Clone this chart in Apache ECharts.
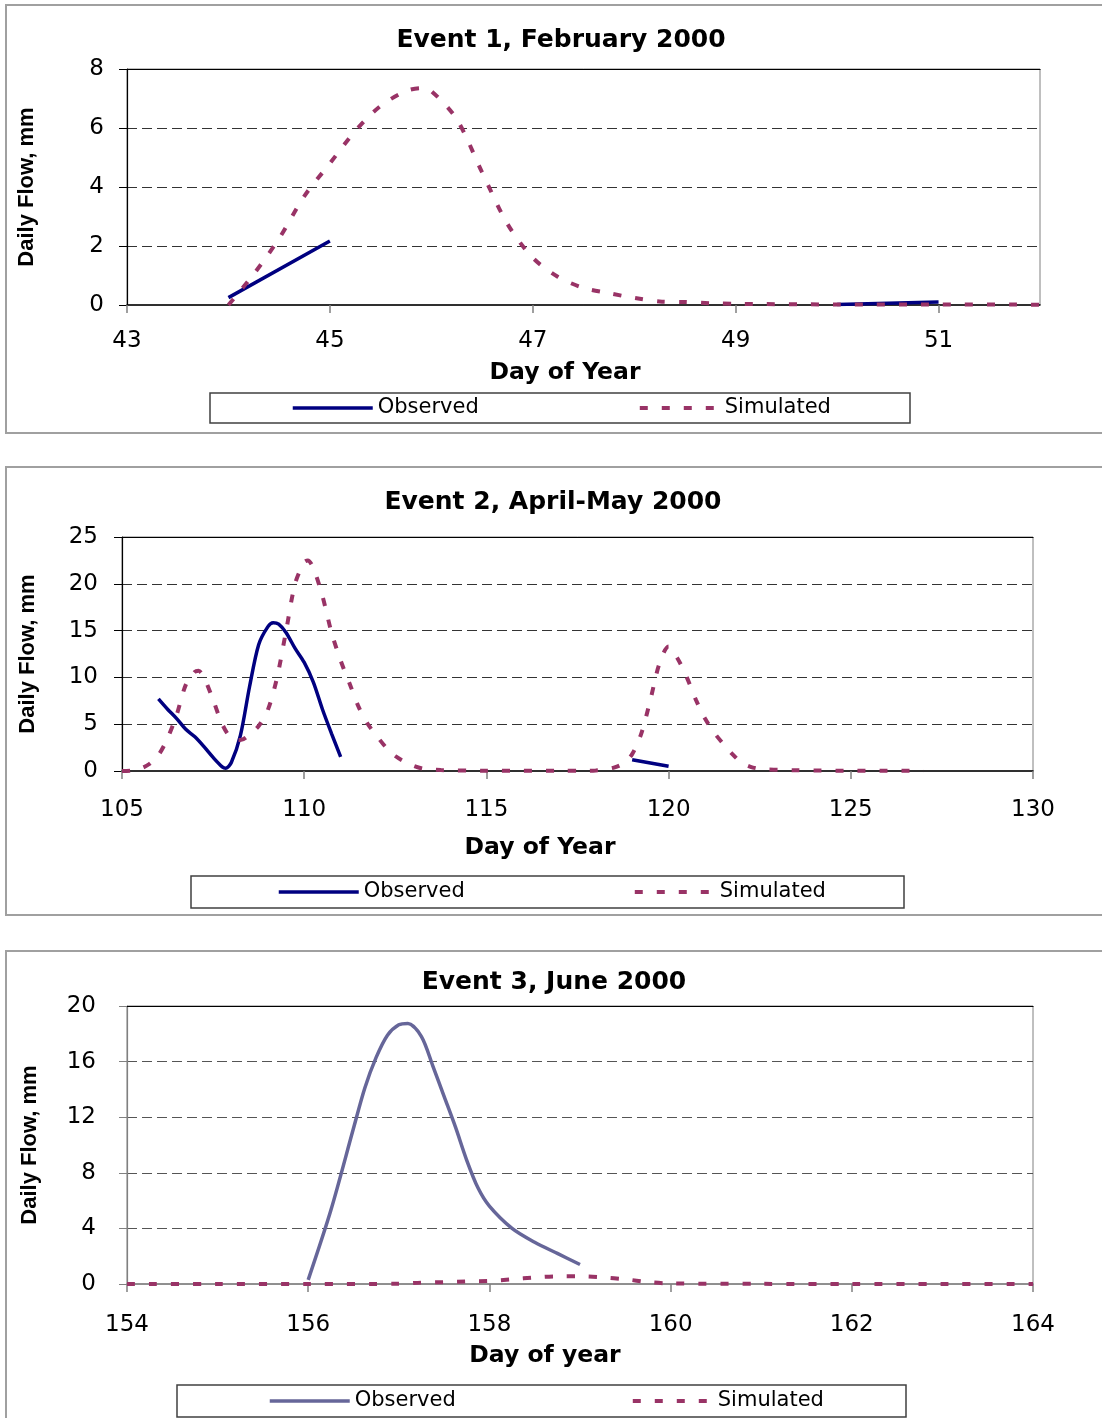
<!DOCTYPE html>
<html>
<head>
<meta charset="utf-8">
<script src="https://cdn.jsdelivr.net/npm/echarts@6/dist/echarts.min.js"></script>
<style>
  html, body { margin: 0; padding: 0; background: #ffffff; }
  #chart { width: 1102px; height: 1418px; }
</style>
</head>
<body>
<div id="chart"></div>
<script>
// ---- Event 1: February 2000 --------------------------------------------
const event1Title = 'Event 1, February 2000';
const event1DayRange = [43, 52];
const event1DayTicks = [43, 45, 47, 49, 51];
const event1FlowTicks = [0, 2, 4, 6, 8];
const event1Observed = [
  [44, 0.25], [45, 2.17], [46, '-'], [50, 0.02], [51, 0.1]
];
const event1Simulated = [
  [44, 0], [44.25, 1.05], [44.5, 2.26], [44.75, 3.7], [45, 4.8], [45.25, 5.9],
  [45.5, 6.75], [45.75, 7.25], [45.9, 7.35], [46, 7.25], [46.25, 6.3], [46.5, 4.5],
  [46.75, 2.75], [47, 1.6], [47.25, 0.95], [47.5, 0.58], [47.75, 0.4], [48, 0.24],
  [48.25, 0.12], [48.5, 0.1], [48.75, 0.06], [49, 0.04], [50, 0.02], [51, 0.02], [52, 0.01]
];

// ---- Event 2: April-May 2000 -------------------------------------------
const event2Title = 'Event 2, April-May 2000';
const event2DayRange = [105, 130];
const event2DayTicks = [105, 110, 115, 120, 125, 130];
const event2FlowTicks = [0, 5, 10, 15, 20, 25];
const event2Observed = [
  [106, 7.7], [106.25, 6.6], [106.5, 5.6], [106.75, 4.45], [107, 3.65], [107.25, 2.6],
  [107.5, 1.45], [107.75, 0.45], [107.85, 0.3], [108, 0.9], [108.25, 3.8], [108.5, 9.0],
  [108.75, 13.5], [109, 15.4], [109.15, 15.85], [109.3, 15.7], [109.5, 14.8], [109.75, 13.1],
  [110, 11.6], [110.25, 9.5], [110.5, 6.6], [110.75, 4.0], [111, 1.5],
  [112, '-'], [119, 1.2], [120, 0.5]
];
const event2Simulated = [
  [105, 0], [105.25, 0.05], [105.5, 0.25], [105.75, 0.75], [106, 1.7], [106.25, 3.5],
  [106.5, 6.0], [106.75, 9.2], [107, 10.6], [107.1, 10.7], [107.25, 10.0], [107.5, 7.6],
  [107.75, 5.0], [108, 3.5], [108.25, 3.3], [108.5, 3.9], [108.75, 4.8], [109, 6.5],
  [109.25, 9.9], [109.5, 14.9], [109.75, 20.0], [110, 22.3], [110.1, 22.5], [110.25, 21.7],
  [110.5, 18.7], [110.75, 14.8], [111, 11.8], [111.25, 9.3], [111.5, 6.8], [111.75, 5.0],
  [112, 3.7], [112.25, 2.5], [112.5, 1.6], [112.75, 1.0], [113, 0.55], [113.25, 0.25],
  [113.5, 0.15], [113.75, 0.1], [114, 0.08], [114.5, 0.05], [115, 0.03], [116, 0.02],
  [117, 0.02], [117.75, 0.03], [118, 0.06], [118.25, 0.15], [118.5, 0.35], [118.75, 0.8],
  [119, 1.8], [119.25, 4.0], [119.5, 7.6], [119.75, 11.5], [120, 13.3], [120.25, 12.0],
  [120.5, 10.0], [120.75, 7.6], [121, 5.6], [121.25, 4.1], [121.5, 2.9], [121.75, 1.8],
  [122, 0.9], [122.25, 0.45], [122.5, 0.22], [122.75, 0.15], [123, 0.14], [123.5, 0.08],
  [124, 0.05], [125, 0.03], [126, 0.02], [127, 0.01]
];

// ---- Event 3: June 2000 ------------------------------------------------
const event3Title = 'Event 3, June 2000';
const event3DayRange = [154, 164];
const event3DayTicks = [154, 156, 158, 160, 162, 164];
const event3FlowTicks = [0, 4, 8, 12, 16, 20];
const event3Observed = [
  [156, 0.3], [156.25, 5.3], [156.5, 11.2], [156.625, 14.1], [156.75, 16.3], [156.875, 17.9],
  [157, 18.65], [157.1, 18.75], [157.25, 17.8], [157.375, 15.7], [157.5, 13.5], [157.625, 11.3],
  [157.75, 8.9], [157.875, 6.9], [158, 5.6], [158.25, 4.0], [158.5, 3.0], [158.75, 2.2], [159, 1.4]
];
const event3Simulated = [
  [154, 0], [155, 0], [156, 0], [157, 0.02], [157.25, 0.1], [157.5, 0.13], [157.75, 0.18],
  [158, 0.22], [158.25, 0.34], [158.5, 0.47], [158.75, 0.55], [159, 0.55], [159.25, 0.48],
  [159.5, 0.34], [159.75, 0.14], [160, 0.04], [161, 0.01], [162, 0], [163, 0], [164, 0]
];

const xAxisName = ['Day of Year', 'Day of Year', 'Day of year'];
const yAxisName = 'Daily Flow, mm';

// ---- styling / layout ---------------------------------------------------
const SIM_COLOR = '#993366';
const OBS_COLORS = ['#000080', '#000080', '#666699'];
const OBS_WIDTH = 3.5;
const SIM_WIDTH = 4;
const SIM_DASH = [8, 14];
const NUM_FONT = 'DejaVu Sans';

const panels = [
  { title: event1Title, range: event1DayRange, dayTicks: event1DayTicks, flowTicks: event1FlowTicks,
    obs: event1Observed, sim: event1Simulated,
    grid: { left: 127, top: 69, width: 913, height: 236 }, titleX: 561, titleY: 28,
    xLabelMargin: 25, xNameGap: 56, xNameShift: 37, yLabelMargin: 23, yNameGap: 89,
    axisColor: '#000', gridColor: '#333', legendX: 291, legendY: 397, legendGap: 159,
    frame: [6, 5, 1200, 428], legendBox: [210, 393, 700, 30] },
  { title: event2Title, range: event2DayRange, dayTicks: event2DayTicks, flowTicks: event2FlowTicks,
    obs: event2Observed, sim: event2Simulated,
    grid: { left: 122, top: 537, width: 911, height: 234 }, titleX: 553, titleY: 490,
    xLabelMargin: 28, xNameGap: 65, xNameShift: 75, yLabelMargin: 24, yNameGap: 83,
    axisColor: '#000', gridColor: '#333', legendX: 277, legendY: 881, legendGap: 168,
    frame: [6, 467, 1200, 448], legendBox: [191, 876, 713, 32] },
  { title: event3Title, range: event3DayRange, dayTicks: event3DayTicks, flowTicks: event3FlowTicks,
    obs: event3Observed, sim: event3Simulated,
    grid: { left: 127, top: 1006, width: 906, height: 278 }, titleX: 554, titleY: 970,
    xLabelMargin: 30, xNameGap: 60, xNameShift: 70, yLabelMargin: 31, yNameGap: 86,
    axisColor: '#808080', gridColor: '#555', legendX: 268, legendY: 1390, legendGap: 175,
    frame: [6, 951, 1200, 600], legendBox: [177, 1385, 729, 32] }
];

const option = {
  animation: false,
  backgroundColor: '#ffffff',
  title: panels.map(p => ({
    text: p.title, left: p.titleX, top: p.titleY, textAlign: 'center', padding: 0,
    textStyle: { fontFamily: NUM_FONT, fontWeight: 'bold', fontSize: 25, color: '#000' }
  })),
  grid: panels.map(p => Object.assign({ show: true, borderColor: '#808080', borderWidth: 1,
    backgroundColor: 'transparent', containLabel: false }, p.grid)),
  xAxis: [
    ...panels.map((p, i) => ({
      type: 'value', gridIndex: i, position: 'bottom',
      min: p.range[0], max: p.range[1],
      interval: p.dayTicks[1] - p.dayTicks[0],
      name: xAxisName[i], nameLocation: 'middle', nameGap: p.xNameGap,
      nameTextStyle: { fontFamily: NUM_FONT, fontWeight: 'bold', fontSize: 23.5, color: '#000',
        padding: [0, p.xNameShift, 0, 0] },
      axisLine: { show: true, onZero: false, lineStyle: { color: p.axisColor, width: 1.5 } },
      axisTick: { show: true, length: 8, customValues: p.dayTicks,
        lineStyle: { color: '#808080', width: 1.5 } },
      axisLabel: { show: true, customValues: p.dayTicks, margin: p.xLabelMargin,
        fontFamily: NUM_FONT, fontSize: 23, color: '#000' },
      splitLine: { show: false }
    })),
    ...panels.map((p, i) => ({
      type: 'value', gridIndex: i, position: 'top', min: p.range[0], max: p.range[1],
      axisLine: { show: true, onZero: false, lineStyle: { color: '#000', width: 1.2 } },
      axisTick: { show: false }, axisLabel: { show: false }, splitLine: { show: false }
    }))
  ],
  yAxis: panels.map((p, i) => ({
    type: 'value', gridIndex: i,
    min: p.flowTicks[0], max: p.flowTicks[p.flowTicks.length - 1],
    interval: p.flowTicks[1] - p.flowTicks[0],
    name: yAxisName, nameLocation: 'middle', nameGap: p.yNameGap,
    nameTextStyle: { fontFamily: 'Liberation Sans', fontWeight: 'bold', fontSize: 22, color: '#000' },
    axisLine: { show: true, onZero: false, lineStyle: { color: p.axisColor, width: 1.2 } },
    axisTick: { show: true, length: 8, lineStyle: { color: p.axisColor, width: 1 } },
    axisLabel: { margin: p.yLabelMargin, fontFamily: NUM_FONT, fontSize: 23, color: '#000' },
    splitLine: { show: true, showMinLine: false, showMaxLine: false,
      lineStyle: { color: p.gridColor, width: 1, type: [10, 5] } }
  })),
  legend: panels.map((p, i) => ({
    left: p.legendX, top: p.legendY, padding: 0, orient: 'horizontal',
    itemWidth: 80, itemHeight: 14, itemGap: p.legendGap, selectedMode: false,
    itemStyle: { opacity: 0 },
    data: [
      { name: 'Observed#' + (i + 1),
        lineStyle: { color: OBS_COLORS[i], width: OBS_WIDTH, type: 'solid' } },
      { name: 'Simulated#' + (i + 1),
        lineStyle: { color: SIM_COLOR, width: SIM_WIDTH, type: SIM_DASH } }
    ],
    formatter: name => name.split('#')[0],
    textStyle: { fontFamily: NUM_FONT, fontSize: 21, color: '#000', lineHeight: 22 }
  })),
  graphic: [
    ...panels.map(p => ({
      type: 'rect', silent: true, z: -10,
      shape: { x: p.frame[0], y: p.frame[1], width: p.frame[2], height: p.frame[3] },
      style: { fill: 'none', stroke: '#a0a0a0', lineWidth: 2 }
    })),
    ...panels.map(p => ({
      type: 'rect', silent: true, z: -10,
      shape: { x: p.legendBox[0], y: p.legendBox[1], width: p.legendBox[2], height: p.legendBox[3] },
      style: { fill: 'none', stroke: '#404040', lineWidth: 1.5 }
    }))
  ],
  series: panels.flatMap((p, i) => [
    {
      type: 'line', name: 'Observed#' + (i + 1), xAxisIndex: i, yAxisIndex: i,
      data: p.obs, symbol: 'none', smooth: 0.3, connectNulls: false,
      lineStyle: { color: OBS_COLORS[i], width: OBS_WIDTH }, itemStyle: { color: OBS_COLORS[i] }
    },
    {
      type: 'line', name: 'Simulated#' + (i + 1), xAxisIndex: i, yAxisIndex: i,
      data: p.sim, symbol: 'none', smooth: 0.3, connectNulls: false,
      lineStyle: { color: SIM_COLOR, width: SIM_WIDTH, type: SIM_DASH }, itemStyle: { color: SIM_COLOR }
    }
  ])
};

const chart = echarts.init(document.getElementById('chart'), null, { renderer: 'canvas' });
chart.setOption(option);
</script>
</body>
</html>
